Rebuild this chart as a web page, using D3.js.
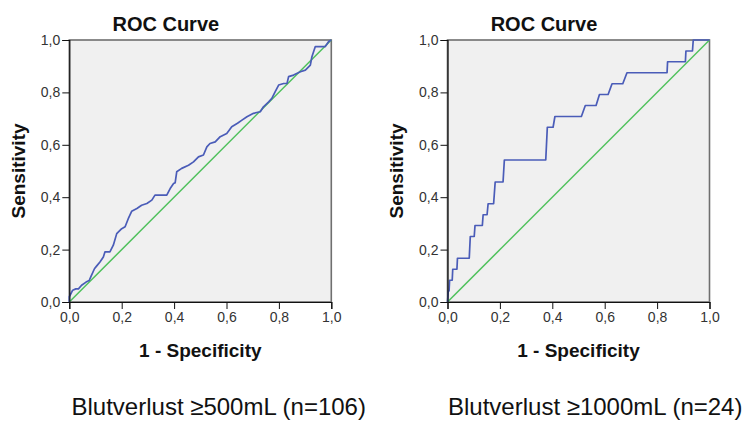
<!DOCTYPE html>
<html>
<head>
<meta charset="utf-8">
<script src="https://cdn.jsdelivr.net/npm/d3@7"></script>
<style>
  body { margin: 0; background: #fff; }
  text { font-family: "Liberation Sans", Arial, sans-serif; }
</style>
</head>
<body>
<div id="chart"></div>
<script>
// ROC curve, blood loss >= 500 mL (n=106)
const fprA = [0, 0, .013, .025, .035, .047, .064, .076, .082, .096, .104, .117, .13, .136, .155, .168, .181, .2, .213, .225,
  .238, .258, .276, .296, .315, .327, .372, .385, .398, .404, .41, .429, .455, .474, .493, .512, .525, .537, .557, .576,
  .601, .62, .642, .659, .678, .703, .729, .741, .761, .773, .786, .799, .818, .831, .837, .856, .882, .901, .92, .926,
  .939, .977, .99, 1];
const tprA = [0, .02, .045, .05, .05, .064, .076, .082, .096, .127, .137, .153, .172, .191, .191, .217, .261, .28, .287, .318,
  .346, .357, .369, .376, .389, .408, .408, .433, .452, .455, .497, .51, .522, .535, .554, .561, .592, .605, .611, .631,
  .643, .669, .682, .694, .707, .72, .726, .745, .764, .777, .803, .828, .834, .834, .86, .866, .879, .885, .904, .936,
  .975, .975, .994, 1];

// ROC curve, blood loss >= 1000 mL (n=24)
const fprB = [0, .003, .006, .008, .018, .02, .036, .038, .083, .087, .102, .105, .133, .136, .151, .155, .176, .182, .212, .217,
  .375, .381, .403, .41, .511, .526, .567, .58, .613, .628, .669, .685, .838, .84, .908, .91, .935, .938, 1];
const tprB = [0, .042, .042, .083, .083, .125, .125, .167, .167, .25, .25, .292, .292, .333, .333, .375, .375, .458, .458, .542,
  .542, .667, .667, .708, .708, .75, .75, .792, .792, .833, .833, .875, .875, .917, .917, .958, .958, 1, 1];

// reference diagonal
const refLine = [0, 1];

const ticks = [0, 0.2, 0.4, 0.6, 0.8, 1.0];
const captions = ["Blutverlust ≥500mL (n=106)", "Blutverlust ≥1000mL (n=24)"];
const title = "ROC Curve";
const xLabel = "1 - Specificity";
const yLabel = "Sensitivity";

const W = 744;
const H = 421;
const size = 262; // plot box side
const plotTop = 40;

const svg = d3
  .select("#chart")
  .append("svg")
  .attr("width", W)
  .attr("height", H);

// German decimal comma
const fmt = d3.formatLocale({ decimal: ",", thousands: ".", grouping: [3], currency: ["", ""] }).format(".1f");

const x = d3.scaleLinear().domain([0, 1]).range([0, size]);
const y = d3.scaleLinear().domain([0, 1]).range([size, 0]);

const line = d3
  .line()
  .x((d) => x(d[0]))
  .y((d) => y(d[1]));

const panels = [
  { left: 69.3, fpr: fprA, tpr: tprA, caption: captions[0], capX: 71.5 },
  { left: 447.5, fpr: fprB, tpr: tprB, caption: captions[1], capX: 448 }
];

panels.forEach((p) => {
  const g = svg.append("g").attr("transform", `translate(${p.left},${plotTop})`);

  // plot background + frame
  g.append("rect")
    .attr("width", size)
    .attr("height", size)
    .attr("fill", "#f0f0f0")
    .attr("stroke", "#6f6f6f")
    .attr("stroke-width", 1.6);

  // reference line
  g.append("path")
    .attr("d", line(refLine.map((v) => [v, v])))
    .attr("fill", "none")
    .attr("stroke", "#4fc15c")
    .attr("stroke-width", 1.5);

  // roc curve
  g.append("path")
    .attr("d", line(p.fpr.map((f, i) => [f, p.tpr[i]])))
    .attr("fill", "none")
    .attr("stroke", "#4a5cb8")
    .attr("stroke-width", 1.7)
    .attr("stroke-linejoin", "round");

  // axes
  const xAxis = d3.axisBottom(x).tickValues(ticks).tickFormat(fmt).tickSize(7).tickPadding(3);
  const yAxis = d3.axisLeft(y).tickValues(ticks).tickFormat(fmt).tickSize(7).tickPadding(2);

  const gx = g.append("g").attr("transform", `translate(0,${size})`).call(xAxis);
  const gy = g.append("g").call(yAxis);

  [gx, gy].forEach((a) => {
    a.select(".domain").attr("stroke", "#111").attr("stroke-width", 1.2);
    a.selectAll(".tick line").attr("stroke", "#111");
    a.selectAll(".tick text")
      .attr("fill", "#333")
      .style("font-size", "14px")
      .style("font-family", "'Liberation Sans', Arial, sans-serif");
  });

  // title
  g.append("text")
    .attr("x", size / 2 - 34.5)
    .attr("y", -9.3)
    .attr("text-anchor", "middle")
    .style("font-size", "20px")
    .style("font-weight", "bold")
    .attr("fill", "#111")
    .text(title);

  // axis labels
  g.append("text")
    .attr("x", size / 2)
    .attr("y", size + 55)
    .attr("text-anchor", "middle")
    .style("font-size", "19px")
    .style("font-weight", "bold")
    .attr("fill", "#111")
    .text(xLabel);

  g.append("text")
    .attr("transform", `translate(-44.5,${size / 2})rotate(-90)`)
    .attr("text-anchor", "middle")
    .style("font-size", "19px")
    .style("font-weight", "bold")
    .attr("fill", "#111")
    .text(yLabel);

  // caption below panel
  svg.append("text")
    .attr("x", p.capX)
    .attr("y", 415)
    .style("font-size", "24px")
    .attr("fill", "#111")
    .text(p.caption);
});
</script>
</body>
</html>
